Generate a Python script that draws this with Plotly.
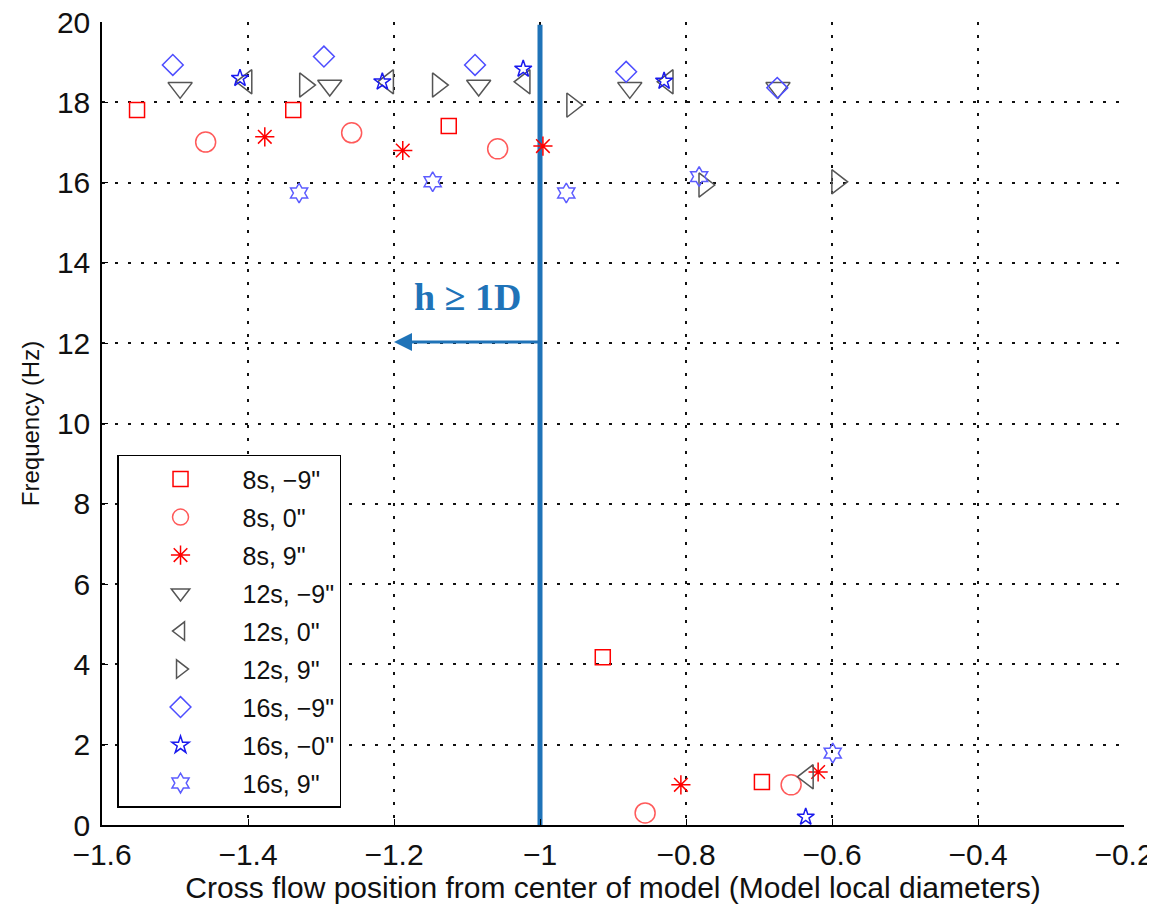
import plotly.graph_objects as go

# ---- data ----
x_sq = [-1.552, -1.338, -1.125, -0.914, -0.696]
y_sq = [17.81, 17.81, 17.41, 4.18, 1.07]
x_ci = [-1.458, -1.258, -1.058, -0.856, -0.656]
y_ci = [17.01, 17.24, 16.84, 0.30, 1.00]
x_as = [-1.377, -1.188, -0.996, -0.807, -0.619]
y_as = [17.14, 16.80, 16.91, 1.00, 1.32]
x_td = [-1.493, -1.288, -1.084, -0.877, -0.674]
y_td = [18.36, 18.42, 18.42, 18.36, 18.36]
x_tl = [-1.402, -1.208, -1.021, -0.825, -0.633]
y_tl = [18.51, 18.51, 18.51, 18.51, 1.20]
x_tr = [-1.322, -1.140, -0.956, -0.775, -0.593]
y_tr = [18.43, 18.43, 17.93, 15.94, 16.02]
x_di = [-1.503, -1.296, -1.089, -0.882, -0.675]
y_di = [18.93, 19.14, 18.93, 18.76, 18.36]
x_st = [-1.411, -1.216, -1.023, -0.830, -0.636]
y_st = [18.60, 18.51, 18.83, 18.53, 0.20]
x_hx = [-1.330, -1.147, -0.964, -0.782, -0.599]
y_hx = [15.74, 16.02, 15.74, 16.15, 1.79]

series_names = ['8s, \u22129"', '8s, 0"', '8s, 9"', '12s, \u22129"', '12s, 0"',
                '12s, 9"', '16s, \u22129"', '16s, \u22120"', '16s, 9"']

line_x = [-1.0, -1.0]
line_y = [0.0, 19.93]
arrow_tail = (-1.0, 12.03)
arrow_head = (-1.2, 12.03)
label_text = "h \u2265 1D"
label_pos = (-1.10, 13.15)

x_tickvals = [-1.6, -1.4, -1.2, -1.0, -0.8, -0.6, -0.4, -0.2]
x_ticktext = ["\u22121.6", "\u22121.4", "\u22121.2", "\u22121", "\u22120.8", "\u22120.6", "\u22120.4", "\u22120.2"]
y_tickvals = [0, 2, 4, 6, 8, 10, 12, 14, 16, 18, 20]

styles = [
    dict(symbol="square-open", color="#ff0000", size=15),
    dict(symbol="circle-open", color="#ff5a5a", size=20),
    dict(symbol="asterisk-open", color="#ff0000", size=16),
    dict(symbol="triangle-down-open", color="#555555", size=21),
    dict(symbol="triangle-left-open", color="#555555", size=21),
    dict(symbol="triangle-right-open", color="#555555", size=21),
    dict(symbol="diamond-open", color="#4d4dff", size=16),
    dict(symbol="star-open", color="#1a1aee", size=13),
    dict(symbol="hexagram-open", color="#5c5cff", size=15),
]
xs = [x_sq, x_ci, x_as, x_td, x_tl, x_tr, x_di, x_st, x_hx]
ys = [y_sq, y_ci, y_as, y_td, y_tl, y_tr, y_di, y_st, y_hx]

fig = go.Figure()
fig.add_trace(go.Scatter(x=line_x, y=line_y, mode="lines",
                         line=dict(color="#1f73b8", width=5),
                         showlegend=False, hoverinfo="skip"))
for i, (name, st) in enumerate(zip(series_names, styles)):
    fig.add_trace(go.Scatter(
        x=xs[i], y=ys[i], mode="markers", name=name, legendgroup=f"g{i}",
        marker=dict(symbol=st["symbol"], size=st["size"], color=st["color"],
                    line=dict(color=st["color"], width=1.5)),
    ))

fig.add_annotation(x=arrow_head[0], y=arrow_head[1], ax=arrow_tail[0], ay=arrow_tail[1],
                   xref="x", yref="y", axref="x", ayref="y", text="",
                   showarrow=True, arrowhead=2, arrowsize=1.2, arrowwidth=3,
                   arrowcolor="#1f73b8")
fig.add_annotation(x=label_pos[0], y=label_pos[1], xref="x", yref="y", text=f"<b>{label_text}</b>",
                   showarrow=False,
                   font=dict(family="Liberation Serif", size=38, color="#1f73b8"))

axis_font = dict(family="Liberation Sans, Arial", size=30, color="#111111")
grid = dict(showgrid=True, gridcolor="#111111", griddash="3px,10px", gridwidth=1.5)
fig.update_layout(
    width=1155, height=909,
    margin=dict(l=94, r=39, t=14, b=92),
    paper_bgcolor="white", plot_bgcolor="white",
    font=axis_font,
    xaxis=dict(range=[-1.6, -0.2], tickvals=x_tickvals, ticktext=x_ticktext,
               showline=True, linecolor="black", linewidth=1.5, automargin=False,
               ticks="inside", ticklen=6, tickcolor="black", ticklabelstandoff=2,
               ticklabeloverflow="allow",
               zeroline=False, tickfont=axis_font, **grid,
               title=dict(text="Cross flow position from center of model (Model local diameters)",
                          font=dict(family="Liberation Sans, Arial", size=30, color="#111111"),
                          standoff=0)),
    yaxis=dict(range=[0, 20], tickvals=y_tickvals,
               showline=True, linecolor="black", linewidth=1.5, automargin=False,
               ticks="inside", ticklen=6, tickcolor="black", ticklabelstandoff=4,
               ticklabeloverflow="allow",
               zeroline=False, tickfont=axis_font, **grid,
               title=dict(text="Frequency (Hz)",
                          font=dict(family="Liberation Sans, Arial", size=24, color="#111111"),
                          standoff=10)),
    legend=dict(x=0.0147, y=0.461, xanchor="left", yanchor="top",
                bgcolor="white", bordercolor="black", borderwidth=1.5,
                font=dict(family="Liberation Sans, Arial", size=25, color="#111111"),
                itemwidth=114, tracegroupgap=2.5, traceorder="grouped"),
)

fig.write_html("out.html")
